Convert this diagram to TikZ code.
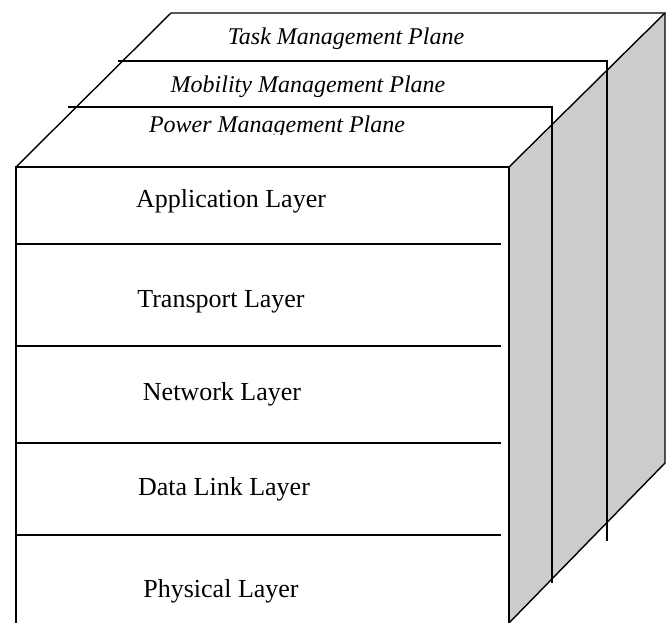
\documentclass[tikz,border=0pt]{standalone}
\usepackage{fontspec}
\setmainfont{Liberation Serif}
\definecolor{sideface}{RGB}{204,204,204}
\tikzset{
  edge/.style={line width=1.4pt, line join=miter},
  rule/.style={line width=2pt},
  layertext/.style={font=\fontsize{26}{28}\selectfont, anchor=base, inner sep=0pt},
  planetext/.style={font=\fontsize{24}{26}\selectfont\itshape, anchor=base, inner sep=0pt}
}
\begin{document}
\begin{tikzpicture}[x=1pt,y=-1pt]
  \useasboundingbox (0,0) rectangle (669,623);

  % corners of the block
  \coordinate (ftl) at (16,167);
  \coordinate (ftr) at (509,167);
  \coordinate (btl) at (171,13);
  \coordinate (btr) at (665,13);
  \coordinate (bbr) at (665,463);
  \coordinate (fbr) at (509,623);
  \coordinate (fbl) at (16,623);

  % shaded side face
  \fill[sideface] (ftr) -- (btr) -- (bbr) -- (fbr) -- cycle;

  % outline of the block
  \draw[edge] (fbl) -- (ftl) -- (ftr) -- (fbr);
  \draw[edge] (ftl) -- (btl) -- (btr) -- (bbr) -- (fbr);
  \draw[edge] (ftr) -- (btr);

  % management planes
  \draw[rule] (118,61) -- (607,61) -- (607,541);
  \draw[rule] (68,107) -- (552,107) -- (552,583);

  % layer separators
  \foreach \y in {244,346,443,535}
    \draw[rule] (16,\y) -- (501,\y);

  % plane labels
  \node[planetext] (task) at (346,45) {Task Management Plane};
  \node[planetext] (mobility) at (308,93) {Mobility Management Plane};
  \begin{scope}
    \clip (60,108) rectangle (500,134.5);
    \node[planetext] (power) at (277,132) {Power Management Plane};
  \end{scope}

  % layer labels
  \node[layertext] (app) at (231,207) {Application Layer};
  \node[layertext] (transport) at (221,307) {Transport Layer};
  \node[layertext] (network) at (222,400) {Network Layer};
  \node[layertext] (datalink) at (224,495) {Data Link Layer};
  \node[layertext] (physical) at (221,597) {Physical Layer};
\end{tikzpicture}
\end{document}
